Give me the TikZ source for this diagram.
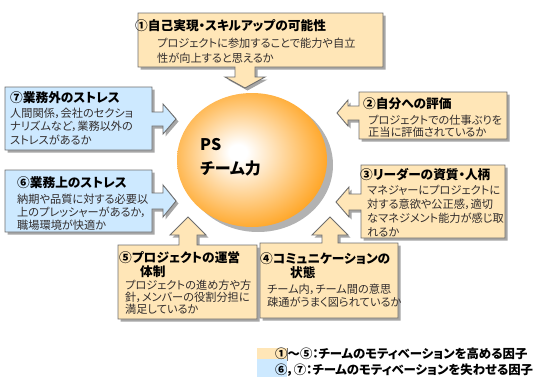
\documentclass[tikz,border=0pt]{standalone}
\usepackage{fontspec}
\setmainfont{Noto Sans CJK JP}[RawFeature={+palt}]
\usetikzlibrary{shadows,shapes.geometric}
\definecolor{peach}{RGB}{255,230,183}
\definecolor{skyb}{RGB}{205,233,255}
\definecolor{boxline}{RGB}{110,110,110}
\definecolor{ballorange}{RGB}{255,150,0}
\definecolor{bodytext}{RGB}{50,45,45}
\pgfdeclareradialshading{psball}{\pgfpoint{-5bp}{3bp}}{color(0bp)=(white); color(3bp)=(white); color(32bp)=(ballorange); color(50bp)=(ballorange)}
\begin{document}
\begin{tikzpicture}[x=1pt,y=-1pt,
  obox/.style={draw=boxline, line width=0.9pt, fill=peach, line join=miter,
    drop shadow={shadow xshift=2.5pt, shadow yshift=-2.5pt, fill=black, opacity=0.35}},
  bbox/.style={obox, fill=skyb},
  hd/.style={anchor=base west, inner sep=0pt, font=\bfseries\fontsize{12.7}{15}\selectfont},
  bd/.style={anchor=base west, inner sep=0pt, align=left, text=bodytext, font=\fontsize{11.2}{#1}\selectfont},
  bd/.default=13.5,
  lg/.style={anchor=base west, inner sep=0pt, font=\bfseries\fontsize{12.4}{14}\selectfont}]
\useasboundingbox (0,0) rectangle (549,378);

% callouts
\path[obox] (138,13) -- (383,13) -- (383,67) -- (255,67) -- (255,77) -- (265,77) -- (245,88) -- (225,77) -- (235,77) -- (235,67) -- (138,67) -- cycle;
\path[bbox] (5,87) -- (152,87) -- (152,112) -- (163,112) -- (163,104) -- (176,119) -- (163,134) -- (163,126) -- (152,126) -- (152,150) -- (5,150) -- cycle;
\path[bbox] (5,170) -- (152,170) -- (152,193) -- (163,193) -- (163,185) -- (176,201) -- (163,217) -- (163,209) -- (152,209) -- (152,232) -- (5,232) -- cycle;
\path[obox] (359,92) -- (507,92) -- (507,139) -- (359,139) -- (359,120) -- (348,120) -- (348,126) -- (337,113) -- (348,100) -- (348,106) -- (359,106) -- cycle;
\path[obox] (361,165) -- (505,165) -- (505,238) -- (361,238) -- (361,210) -- (349,210) -- (349,217) -- (336,202) -- (349,187) -- (349,194) -- (361,194) -- cycle;
\path[obox] (118,245) -- (179,245) -- (179,235) -- (170,235) -- (188,217) -- (206,235) -- (197,235) -- (197,245) -- (257,245) -- (257,319) -- (118,319) -- cycle;
\path[obox] (260,243) -- (322,243) -- (322,235) -- (312,235) -- (330,217) -- (348,235) -- (338,235) -- (338,243) -- (398,243) -- (398,318) -- (260,318) -- cycle;

% ball
\node[ellipse, minimum width=150pt, minimum height=134pt, inner sep=0pt, fill=black!30] (ballshadow) at (258,165) {};
\node[ellipse, minimum width=150pt, minimum height=134pt, inner sep=0pt, shading=psball] (ball) at (252,160) {};
\node[anchor=base west, inner sep=0pt, font=\bfseries\fontsize{16}{18}\selectfont] (ps) at (200,150) {PS};
\node[anchor=base west, inner sep=0pt, font=\bfseries\fontsize{16}{18}\selectfont] (team) at (200,174) {チーム力};

% texts (base anchor = baseline of last line)
\node[hd] (h1) at (135,30) {①自己実現・スキルアップの可能性};
\node[bd=15] (b1) at (157,62) {プロジェクトに参加することで能力や自立\\性が向上すると思えるか};
\node[hd] (h2) at (363,108) {②自分への評価};
\node[bd=12.5] (b2) at (368,136.5) {プロジェクトでの仕事ぶりを\\正当に評価されているか};
\node[hd] (h3) at (360,179) {③リーダーの資質・人柄};
\node[bd=14] (b3) at (367,236) {マネジャーにプロジェクトに\\対する意欲や公正感，適切\\なマネジメント能力が感じ取\\れるか};
\node[hd] (h4) at (260,263) {④コミュニケーションの};
\node[hd] (h4b) at (290,277) {状態};
\node[bd=13] (b4) at (267,306) {チーム内，チーム間の意思\\疎通がうまく図られているか};
\node[hd] (h5) at (119,262) {⑤プロジェクトの運営};
\node[hd] (h5b) at (140,276) {体制};
\node[bd=12] (b5) at (125,313) {プロジェクトの進め方や方\\針，メンバーの役割分担に\\満足しているか};
\node[hd] (h6) at (17,187) {⑥業務上のストレス};
\node[bd=13] (b6) at (17,229) {納期や品質に対する必要以\\上のプレッシャーがあるか，\\職場環境が快適か};
\node[hd] (h7) at (10,102) {⑦業務外のストレス};
\node[bd=13.5] (b7) at (10,144) {人間関係，会社のセクショ\\ナリズムなど，業務以外の\\ストレスがあるか};

% legend
\fill[peach] (257,348) rectangle (287,359);
\fill[skyb] (257,359) rectangle (287,377);
\draw[black!55, line width=0.8pt] (287,348) -- (287,361);
\node[lg] (l1) at (275,358) {①～⑤：チームのモティベーションを高める因子};
\node[lg] (l2) at (275,374) {⑥，⑦：チームのモティベーションを失わせる因子};
\end{tikzpicture}
\end{document}
